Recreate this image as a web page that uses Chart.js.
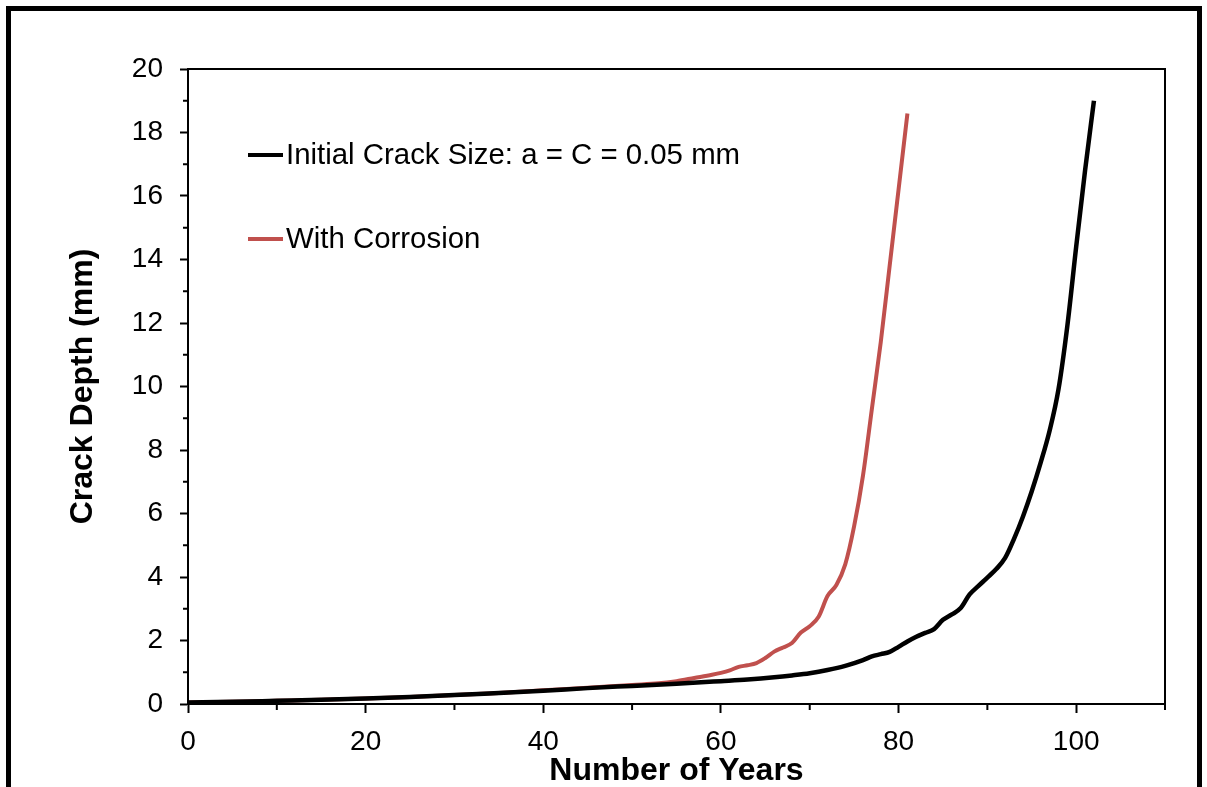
<!DOCTYPE html>
<html>
<head>
<meta charset="utf-8">
<script src="https://cdn.jsdelivr.net/npm/chart.js@4"></script>
<style>
  body { margin: 0; background: #fff; }
  canvas { display: block; }
</style>
</head>
<body>
<canvas id="chart" width="1207" height="787"></canvas>
<script>
// crack depth (mm) vs years
const baseYears = [0, 5, 10, 15, 20, 25, 30, 35, 40, 45, 50, 55, 60, 63, 66, 68, 70, 72, 74, 76, 77, 78, 79, 80,
  81, 82, 83, 84, 85, 86, 87, 88, 89, 90, 91, 92, 93, 94, 95, 96, 97, 98, 99, 100, 101, 102]
const baseDepth = [0.05, 0.07, 0.1, 0.13, 0.17, 0.22, 0.28, 0.35, 0.42, 0.5, 0.57, 0.64, 0.72, 0.77, 0.84, 0.9, 0.97, 1.07, 1.2, 1.38, 1.5, 1.57, 1.64, 1.8,
  1.97, 2.12, 2.24, 2.36, 2.65, 2.82, 3.02, 3.45, 3.72, 3.98, 4.25, 4.6, 5.2, 5.9, 6.7, 7.6, 8.6, 9.9, 11.9, 14.4, 16.8, 19.0]

const corrYears = [0, 5, 10, 15, 20, 25, 30, 35, 40, 45, 50, 53, 55, 57, 59, 60, 61, 62, 63, 64, 65, 66, 67, 68, 69, 70,
  71, 72, 73, 74, 75, 76, 77, 78, 79, 80, 81]
const corrDepth = [0.05, 0.07, 0.1, 0.13, 0.17, 0.22, 0.28, 0.35, 0.43, 0.51, 0.6, 0.65, 0.72, 0.82, 0.92, 0.98, 1.06, 1.17, 1.22, 1.29, 1.45, 1.65, 1.78, 1.92, 2.25, 2.45,
  2.75, 3.4, 3.75, 4.4, 5.6, 7.2, 9.3, 11.4, 13.8, 16.2, 18.6]

const seriesLabels = ["Initial Crack Size: a = C = 0.05 mm", "With Corrosion"]
const seriesColors = ["#000000", "#C0504D"]

const xMajorTicks = [0, 20, 40, 60, 80, 100]
const xMinorTicks = [10, 30, 50, 70, 90, 110]
const yMinorTicks = [1, 3, 5, 7, 9, 11, 13, 15, 17, 19]

const FONT = "'Liberation Sans', Arial, sans-serif"

const toPoints = (xs, ys) => xs.map((x, i) => ({ x, y: ys[i] }))

const frame = {
  id: "frame",
  beforeDraw(chart) {
    const ctx = chart.ctx
    ctx.save()
    ctx.fillStyle = "#fff"
    ctx.fillRect(0, 0, chart.width, chart.height)
    ctx.restore()
  },
  afterDraw(chart) {
    const { ctx, chartArea, scales } = chart
    ctx.save()
    ctx.strokeStyle = "#000"

    // box round the plot
    ctx.lineWidth = 2
    ctx.strokeRect(chartArea.left, chartArea.top, chartArea.right - chartArea.left, chartArea.bottom - chartArea.top)

    // minor ticks
    ctx.beginPath()
    xMinorTicks.forEach(v => {
      const px = scales.x.getPixelForValue(v)
      ctx.moveTo(px, chartArea.bottom)
      ctx.lineTo(px, chartArea.bottom + 6)
    })
    yMinorTicks.forEach(v => {
      const py = scales.y.getPixelForValue(v)
      ctx.moveTo(chartArea.left, py)
      ctx.lineTo(chartArea.left - 5, py)
    })
    ctx.stroke()

    // legend inside the plot
    ctx.font = "29.4px " + FONT
    ctx.textBaseline = "middle"
    ctx.textAlign = "left"
    chart.data.datasets.forEach((ds, i) => {
      const y = chartArea.top + 86 + i * 84
      const x = chartArea.left + 60
      ctx.strokeStyle = ds.borderColor
      ctx.lineWidth = 4
      ctx.beginPath()
      ctx.moveTo(x, y)
      ctx.lineTo(x + 35, y)
      ctx.stroke()
      ctx.fillStyle = "#000"
      ctx.fillText(ds.label, x + 38, y + 1)
    })

    // outer border
    ctx.strokeStyle = "#000"
    ctx.lineWidth = 5
    ctx.strokeRect(8.5, 8.5, 1191, 800)
    ctx.restore()
  }
}

new Chart(document.getElementById("chart"), {
  type: "line",
  data: {
    datasets: [
      {
        label: seriesLabels[0],
        data: toPoints(baseYears, baseDepth),
        borderColor: seriesColors[0],
        borderWidth: 4.5,
        pointRadius: 0,
        cubicInterpolationMode: "monotone",
      },
      {
        label: seriesLabels[1],
        data: toPoints(corrYears, corrDepth),
        borderColor: seriesColors[1],
        borderWidth: 4,
        pointRadius: 0,
        cubicInterpolationMode: "monotone",
      },
    ],
  },
  options: {
    responsive: false,
    animation: false,
    events: [],
    layout: { padding: { left: 0, top: 69, right: 42, bottom: 0 } },
    plugins: {
      legend: { display: false },
      tooltip: { enabled: false },
    },
    scales: {
      x: {
        type: "linear",
        min: 0,
        max: 110,
        afterFit: scale => { scale.height = 83 },
        afterBuildTicks: scale => {
          scale.ticks = xMajorTicks.map(v => ({ value: v }))
        },
        ticks: {
          stepSize: 20,
          padding: 12,
          color: "#000",
          maxRotation: 0,
          font: { size: 28, family: FONT },
        },
        grid: {
          drawOnChartArea: false,
          tickLength: 9,
          tickWidth: 2,
          tickColor: "#000",
        },
        border: { display: true, color: "#000", width: 2 },
        title: {
          display: true,
          text: "Number of Years",
          color: "#000",
          padding: { top: 0, bottom: 0 },
          font: { size: 32, weight: "bold", family: FONT, lineHeight: 1 },
        },
      },
      y: {
        min: 0,
        max: 20,
        afterFit: scale => { scale.width = 188 },
        ticks: {
          stepSize: 2,
          padding: 17,
          color: "#000",
          font: { size: 28, family: FONT },
        },
        grid: {
          drawOnChartArea: false,
          tickLength: 8,
          tickWidth: 2,
          tickColor: "#000",
        },
        border: { display: true, color: "#000", width: 2 },
        title: {
          display: true,
          text: "Crack Depth (mm)",
          color: "#000",
          padding: { top: 67, bottom: 0 },
          font: { size: 32, weight: "bold", family: FONT, lineHeight: 1 },
        },
      },
    },
  },
  plugins: [frame],
})
</script>
</body>
</html>
